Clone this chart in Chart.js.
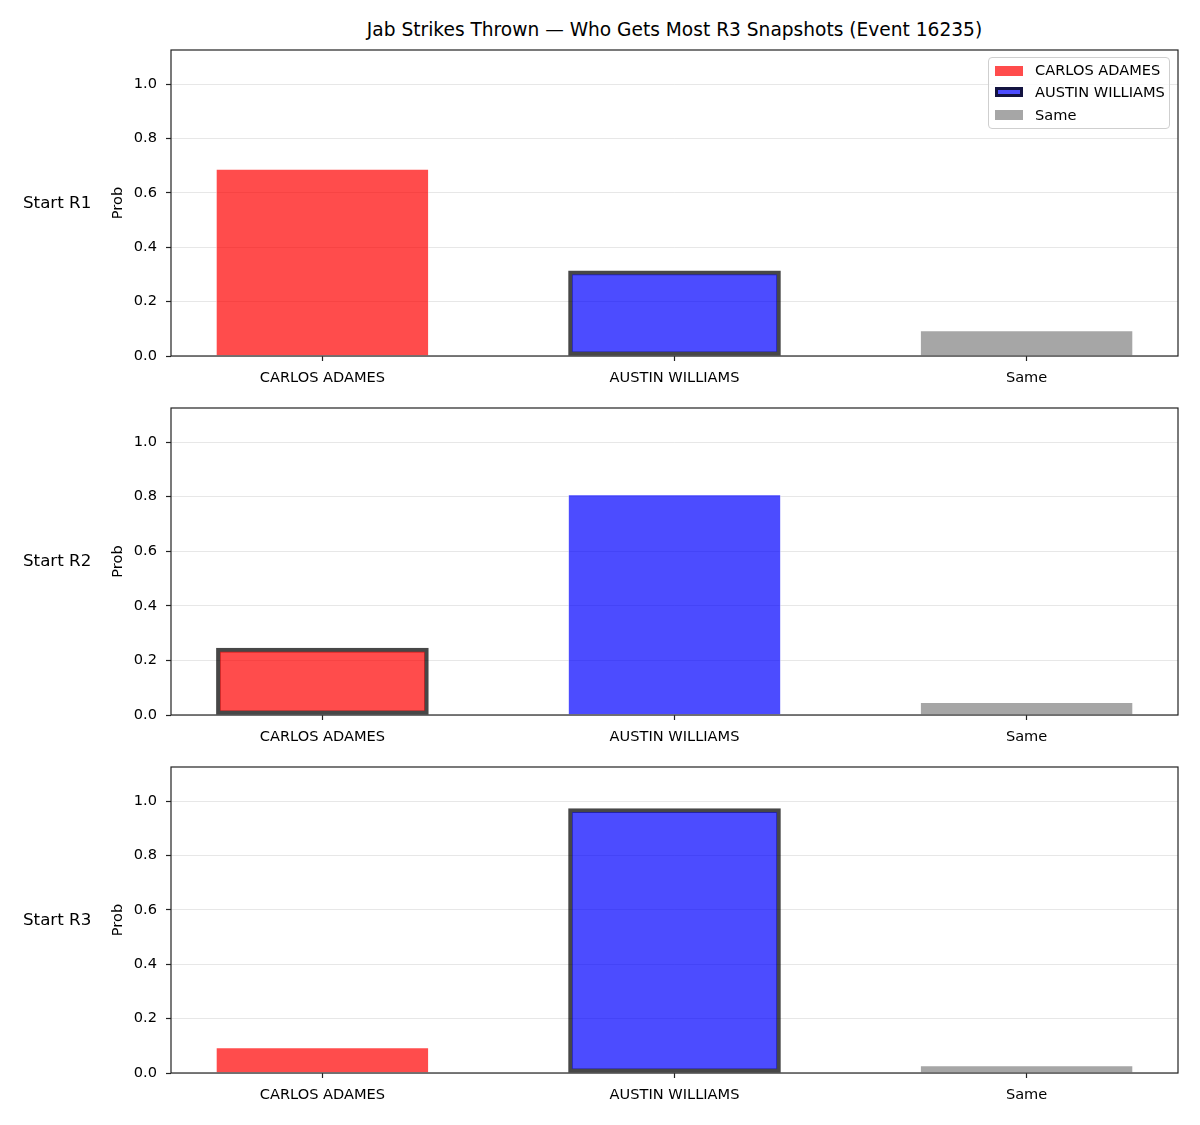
<!DOCTYPE html>
<html>
<head>
<meta charset="utf-8">
<script src="https://cdn.jsdelivr.net/npm/chart.js@4.4.1/dist/chart.umd.min.js"></script>
<style>
  body { margin: 0; background: #fff; font-family: "DejaVu Sans", sans-serif; }
  #fig { position: relative; width: 1200px; height: 1125px; }
  canvas { position: absolute; left: 0; }
  .title { position: absolute; left: 171px; width: 1007px; top: 18px; text-align: center; font-size: 18.6px; line-height: 24px; }
  .rowlab { position: absolute; left: 23px; font-size: 16.7px; line-height: 22px; }
  .legend { position: absolute; left: 988px; top: 57px; width: 182px; height: 72px; box-sizing: border-box;
            border: 1px solid #cfcfcf; border-radius: 4px; background: rgba(255,255,255,0.8); font-size: 14.6px; }
  .legend div { position: absolute; left: 46px; line-height: 18px; }
  .legend span { position: absolute; left: 6px; width: 28px; height: 10px; box-sizing: border-box; }
</style>
</head>
<body>
<div id="fig">
  <div class="title">Jab Strikes Thrown — Who Gets Most R3 Snapshots (Event 16235)</div>
  <canvas id="c0" width="1200" height="356" style="top:40px"></canvas>
  <canvas id="c1" width="1200" height="357" style="top:398px"></canvas>
  <canvas id="c2" width="1200" height="356" style="top:757px"></canvas>
  <div class="rowlab" style="top:191px">Start R1</div>
  <div class="rowlab" style="top:549px">Start R2</div>
  <div class="rowlab" style="top:908px">Start R3</div>
  <div class="legend">
    <span style="top:8px;background:rgba(255,0,0,0.7)"></span><div style="top:3px">CARLOS ADAMES</div>
    <span style="top:29px;background:rgba(0,0,255,0.7);border:3px solid rgba(0,0,0,0.75)"></span><div style="top:25px">AUSTIN WILLIAMS</div>
    <span style="top:52px;background:rgba(128,128,128,0.7)"></span><div style="top:48px">Same</div>
  </div>
</div>
<script>
const categories = ["CARLOS ADAMES", "AUSTIN WILLIAMS", "Same"];
const rowLabels = ["Start R1", "Start R2", "Start R3"];
const carlos = [0.686, 0.245, 0.092];
const austin = [0.313, 0.806, 0.972];
const same = [0.092, 0.045, 0.026];
const highlight = [1, 0, 1]; // index of outlined bar per row
const yTicks = [0, 0.2, 0.4, 0.6, 0.8, 1.0];

const barColors = ["rgba(255,0,0,0.7)", "rgba(0,0,255,0.7)", "rgba(128,128,128,0.7)"];
const fontTick = { family: "DejaVu Sans", size: 14.6 };

// full box around the plot area, like matplotlib spines
const frame = {
  id: "frame",
  afterDraw(chart) {
    const a = chart.chartArea, ctx = chart.ctx;
    ctx.save();
    ctx.strokeStyle = "#222";
    ctx.lineWidth = 1.2;
    ctx.strokeRect(a.left, a.top, a.right - a.left, a.bottom - a.top);
    ctx.restore();
  },
};

for (let r = 0; r < rowLabels.length; r++) {
  const vals = [carlos[r], austin[r], same[r]];
  const ctx = document.getElementById("c" + r).getContext("2d");
  new Chart(ctx, {
    type: "bar",
    data: {
      datasets: [{
        label: rowLabels[r],
        data: vals.map((v, i) => ({ x: i, y: v })),
        backgroundColor: barColors,
        borderColor: vals.map((v, i) => (i === highlight[r] ? "rgba(0,0,0,0.72)" : "rgba(255,255,255,0.6)")),
        borderWidth: vals.map((v, i) => (i === highlight[r] ? 4 : 0.6)),
        borderSkipped: false,
        barThickness: 212,
      }],
    },
    options: {
      responsive: false,
      animation: false,
      devicePixelRatio: 1,
      layout: { padding: { top: 10, right: 22, left: 0, bottom: 0 } },
      plugins: { legend: { display: false }, tooltip: { enabled: false } },
      scales: {
        x: {
          type: "linear",
          min: -0.43,
          max: 2.43,
          offset: false,
          afterFit: (s) => { s.height = 40; s.paddingLeft = 0; s.paddingRight = 0; },
          afterBuildTicks: (s) => { s.ticks = categories.map((c, i) => ({ value: i })); },
          grid: { offset: false, drawOnChartArea: false, drawTicks: true, tickLength: 5, tickColor: "#222", tickWidth: 1.2 },
          border: { display: false },
          ticks: {
            autoSkip: false, maxRotation: 0, padding: 8, color: "#000", font: fontTick,
            callback: (v) => categories[v],
          },
        },
        y: {
          min: 0,
          max: 1.125,
          z: 1,
          afterFit: (s) => { s.width = 171; s.paddingTop = 0; s.paddingBottom = 0; },
          afterBuildTicks: (s) => { s.ticks = yTicks.map((v) => ({ value: v })); },
          grid: { color: "rgba(176,176,176,0.3)", tickColor: "#222", tickLength: 5, tickWidth: 1.2 },
          border: { display: false },
          ticks: { padding: 9, color: "#000", font: fontTick, callback: (v) => v.toFixed(1) },
          title: { display: true, text: "Prob", color: "#000", font: fontTick, padding: { top: 109, bottom: 0 } },
        },
      },
    },
    plugins: [frame],
  });
}
</script>
</body>
</html>
